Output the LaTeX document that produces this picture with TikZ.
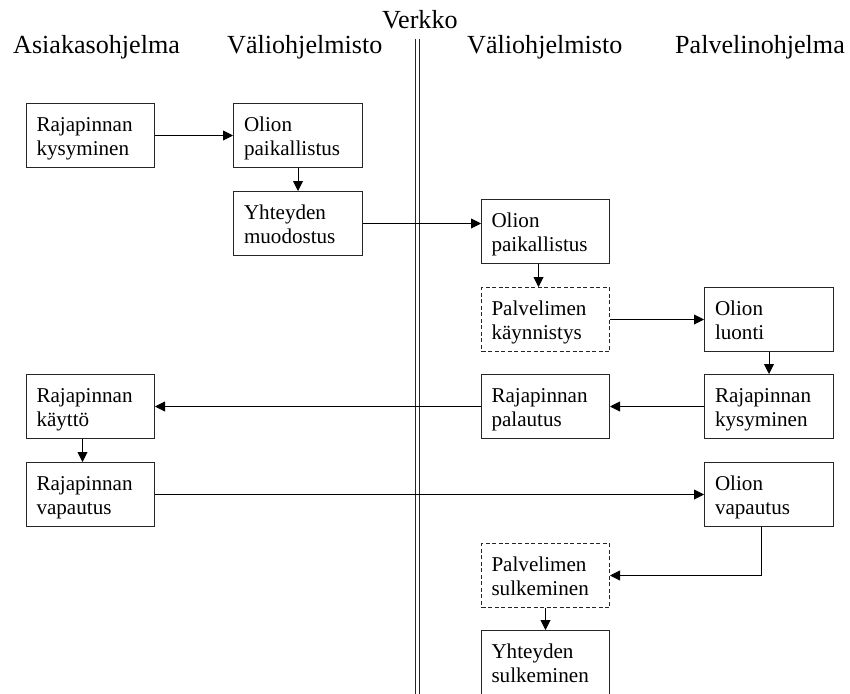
\documentclass[tikz,border=0pt]{standalone}
\usepackage{fontspec}
\setmainfont{Liberation Serif}
\usetikzlibrary{arrows.meta}
% two-line label inside a stage box: first baseline 28pt below the top edge
\newcommand\stagetext[2]{\parbox[c][64pt][t]{108pt}{\rule{0pt}{28pt}#1\\#2}}
\begin{document}
\begin{tikzpicture}[x=1pt,y=-1pt,
  head/.style={anchor=base west, inner sep=0pt, font=\fontsize{26.1}{30}\selectfont},
  stage/.style={draw=black!85, line width=1pt, inner sep=0pt,
    minimum width=128pt, minimum height=64pt, anchor=north west,
    font=\fontsize{21.1}{24}\selectfont},
  optional/.style={stage, dash pattern=on 4pt off 2.5pt},
  flow/.style={draw=black, line width=0.9pt, -{Triangle[length=10pt,width=10pt]}},
  net/.style={draw=black!85, line width=1pt, double distance=2.5pt}
]
\useasboundingbox (0,0) rectangle (850,693);
\clip (0,0) rectangle (850,693);

% column headings
\node[head] (hclient) at (13,53) {Asiakasohjelma};
\node[head] (hmidl) at (227,53) {Väliohjelmisto};
\node[head] (hnet) at (382,29) {Verkko};
\node[head] (hmidr) at (467,53) {Väliohjelmisto};
\node[head] (hserver) at (675,53) {Palvelinohjelma};

% network boundary
\coordinate (nettop) at (417.3,39);
\coordinate (netbot) at (417.3,700);
\draw[net] (nettop) -- (netbot);

% client side
\node[stage] (a1) at (26,103) {\stagetext{Rajapinnan}{kysyminen}};
\node[stage] (a2) at (26,374) {\stagetext{Rajapinnan}{käyttö}};
\node[stage] (a3) at (26,462) {\stagetext{Rajapinnan}{vapautus}};

% client middleware
\node[stage, minimum width=129pt] (b1) at (233,103) {\stagetext{Olion}{paikallistus}};
\node[stage, minimum width=129pt] (b2) at (233,191) {\stagetext{Yhteyden}{muodostus}};

% server middleware
\node[stage] (c1) at (481,199) {\stagetext{Olion}{paikallistus}};
\node[optional] (c2) at (481,287) {\stagetext{Palvelimen}{käynnistys}};
\node[stage] (c3) at (481,374) {\stagetext{Rajapinnan}{palautus}};
\node[optional] (c4) at (481,543) {\stagetext{Palvelimen}{sulkeminen}};
\node[stage, minimum height=72pt] (c5) at (481,630) {\parbox[c][72pt][t]{108pt}{\rule{0pt}{28pt}Yhteyden\\sulkeminen}};

% server
\node[stage, minimum width=129pt] (d1) at (704,287) {\stagetext{Olion}{luonti}};
\node[stage, minimum width=129pt] (d2) at (704,374) {\stagetext{Rajapinnan}{kysyminen}};
\node[stage, minimum width=129pt] (d3) at (704,462) {\stagetext{Olion}{vapautus}};

% flow of the call
\draw[flow] (a1) -- (b1);
\draw[flow] (b1) -- (b2);
\draw[flow] (b2.east) -- (b2.east -| c1.west);
\draw[flow] ([xshift=-7pt]c1.south) -- ([xshift=-7pt]c1.south |- c2.north);
\draw[flow] (c2) -- (d1);
\draw[flow] (d1) -- (d2);
\draw[flow] (d2) -- (c3);
\draw[flow] (c3) -- (a2);
\draw[flow] ([xshift=-8pt]a2.south) -- ([xshift=-8pt]a2.south |- a3.north);
\draw[flow] (a3) -- (d3);
\draw[flow] ([xshift=-8pt]d3.south) |- (c4.east);
\draw[flow] (c4) -- (c5);
\end{tikzpicture}
\end{document}
